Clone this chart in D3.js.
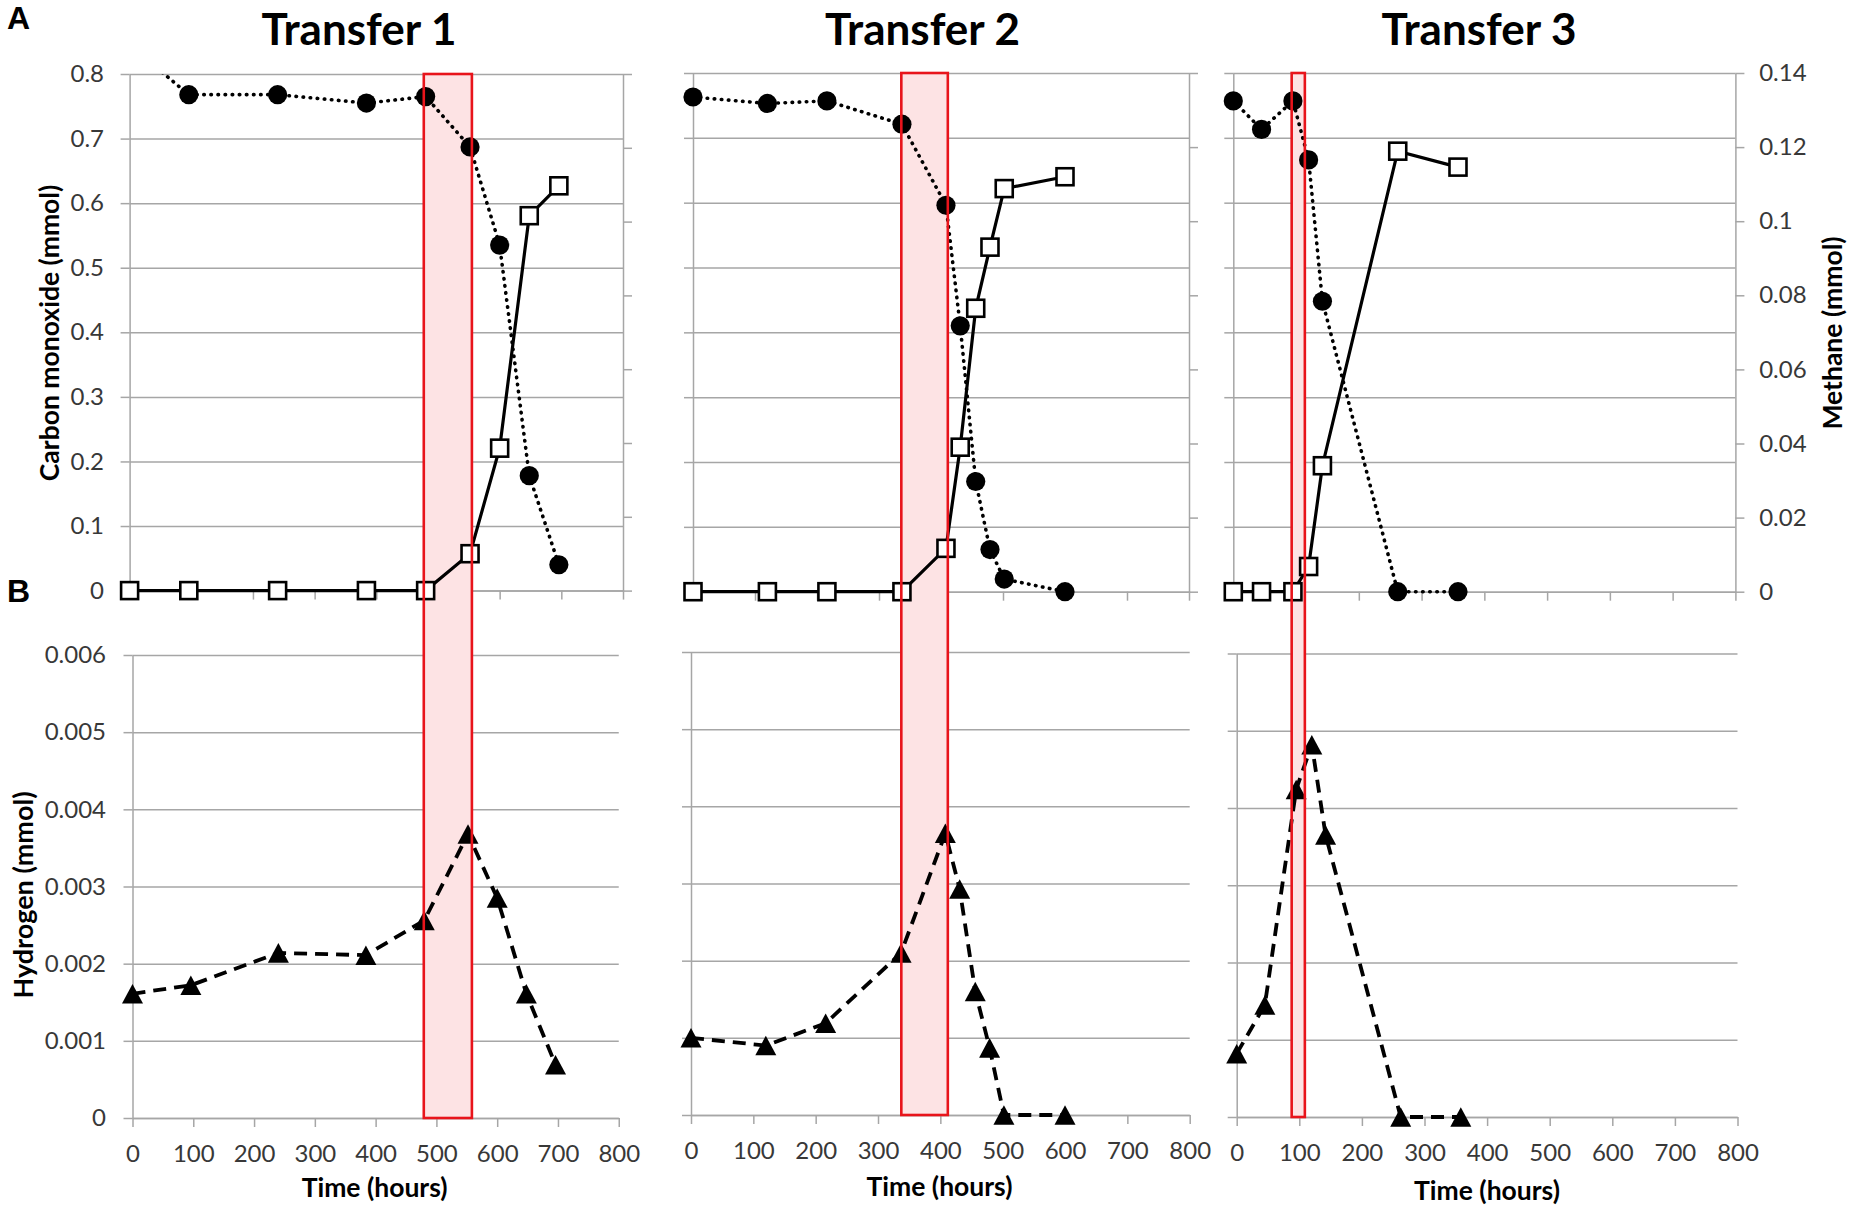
<!DOCTYPE html>
<html><head><meta charset="utf-8">
<script src="https://cdn.jsdelivr.net/npm/d3@7"></script>
<style>body{margin:0;background:#fff}svg{display:block}</style>
</head><body>
<svg id="c" width="1850" height="1210"></svg>
<script>
// ---------------- data ----------------
const transfers = ["Transfer 1", "Transfer 2", "Transfer 3"];
const xTicks   = [0, 100, 200, 300, 400, 500, 600, 700, 800];
const coTicks  = [0, 0.1, 0.2, 0.3, 0.4, 0.5, 0.6, 0.7, 0.8];
const ch4Ticks = [0, 0.02, 0.04, 0.06, 0.08, 0.1, 0.12, 0.14];
const h2Ticks  = [0, 0.001, 0.002, 0.003, 0.004, 0.005, 0.006];

const t1Time = [0, 96, 240, 384, 480, 552, 600, 648, 696];
const t1CO   = [0.845, 0.768, 0.768, 0.755, 0.765, 0.687, 0.535, 0.178, 0.040];
const t1CH4  = [0, 0, 0, 0, 0, 0.0100, 0.0386, 0.1016, 0.1097];
const t1H2   = [0.00161, 0.00172, 0.00214, 0.00211, 0.00256, 0.00368, 0.00285, 0.00161, 0.00069];

const t2Time = [0, 120, 216, 337, 408, 431, 456, 479, 502, 600];
const t2CO   = [0.763, 0.753, 0.757, 0.721, 0.596, 0.410, 0.170, 0.065, 0.0195, 0];
const t2CH4  = [0, 0, 0, 0, 0.0117, 0.0390, 0.0765, 0.0930, 0.1088, 0.112];
const t2H2   = [0.00100, 0.00090, 0.00119, 0.00210, 0.00365, 0.00293, 0.00160, 0.00087, 0, 0];

const t3Time = [0, 45, 95, 120, 142, 262, 358];
const t3CO   = [0.757, 0.713, 0.757, 0.666, 0.448, 0, 0];
const t3CH4  = [0, 0, 0, 0.0068, 0.034, 0.1189, 0.1146];
const t3H2   = [0.00082, 0.00145, 0.00424, 0.00482, 0.00365, 0, 0];

// highlighted time windows (hours)
const windowStart = [477, 336, 93];
const windowEnd   = [555, 411, 114];

// ---------------- layout ----------------
const topBox = [
  {x0: 129.6, x1: 623,    y0: 590.6, y1: 74},
  {x0: 693,   x1: 1189,   y0: 591.7, y1: 73},
  {x0: 1233.3,x1: 1735.4, y0: 591.7, y1: 73}
];
const botBox = [
  {x0: 132.5, x1: 618.75, y0: 1118, y1: 655},
  {x0: 691,   x1: 1189.7, y0: 1115, y1: 652},
  {x0: 1236.7,x1: 1737.5, y0: 1117, y1: 653.5}
];
const titleX = [359, 922.6, 1479];
const timeLabelX = [374.6, 939.5, 1487];
const timeLabelY = [1197, 1196, 1200];

const series = [
  {time: t1Time, co: t1CO, ch4: t1CH4, h2: t1H2},
  {time: t2Time, co: t2CO, ch4: t2CH4, h2: t2H2},
  {time: t3Time, co: t3CO, ch4: t3CH4, h2: t3H2}
];

const FONT = "Lato, 'Open Sans', sans-serif";
const GRID = "#a6a6a6";
const svg = d3.select("#c");
svg.append("rect").attr("width", 1850).attr("height", 1210).attr("fill", "#fff");

const fmt = d => String(+d.toFixed(4));
const none = () => "";

function styleAxis(g) {
  g.selectAll("line").attr("stroke", GRID).attr("stroke-width", 1.5);
  g.selectAll(".domain").attr("stroke", GRID).attr("stroke-width", 1.5);
  g.selectAll("text").attr("font-family", FONT).attr("font-size", 24).attr("fill", "#383838");
}

const triBox = {
  draw(ctx, size) {
    const w = Math.sqrt(size), h = w * 0.93;
    ctx.moveTo(0, -h / 2); ctx.lineTo(w / 2, h / 2); ctx.lineTo(-w / 2, h / 2); ctx.closePath();
  }
};

series.forEach((s, i) => {
  const T = topBox[i], B = botBox[i];
  const xT = d3.scaleLinear().domain([0, 800]).range([T.x0, T.x1]);
  const yCO = d3.scaleLinear().domain([0, 0.8]).range([T.y0, T.y1]);
  const yCH4 = d3.scaleLinear().domain([0, 0.14]).range([T.y0, T.y1]);
  const xB = d3.scaleLinear().domain([0, 800]).range([B.x0, B.x1]);
  const yH = d3.scaleLinear().domain([0, 0.006]).range([B.y0, B.y1]);
  const g = svg.append("g");

  // ---- top panel axes ----
  g.append("g").attr("transform", `translate(${T.x0},0)`)
    .call(d3.axisLeft(yCO).tickValues(coTicks).tickSize(-(T.x1 - T.x0)).tickFormat(none))
    .call(a => a.select(".domain").remove()).call(styleAxis);
  g.append("g").attr("transform", `translate(${T.x0},0)`)
    .call(d3.axisLeft(yCO).tickValues(coTicks).tickSize(9).tickSizeOuter(0).tickPadding(16.6)
      .tickFormat(i === 0 ? fmt : none)).call(styleAxis);
  g.append("g").attr("transform", `translate(${T.x1},0)`)
    .call(d3.axisRight(yCH4).tickValues(ch4Ticks).tickSize(9).tickSizeOuter(0).tickPadding(14.8)
      .tickFormat(i === 2 ? fmt : none)).call(styleAxis);
  g.append("g").attr("transform", `translate(0,${T.y0})`)
    .call(d3.axisBottom(xT).tickValues(xTicks).tickSize(9).tickSizeOuter(0).tickFormat(none))
    .call(styleAxis);

  // ---- bottom panel axes ----
  g.append("g").attr("transform", `translate(${B.x0},0)`)
    .call(d3.axisLeft(yH).tickValues(h2Ticks).tickSize(-(B.x1 - B.x0)).tickFormat(none))
    .call(a => a.select(".domain").remove()).call(styleAxis);
  g.append("g").attr("transform", `translate(${B.x0},0)`)
    .call(d3.axisLeft(yH).tickValues(h2Ticks).tickSize(9).tickSizeOuter(0).tickPadding(17.5)
      .tickFormat(i === 0 ? fmt : none)).call(styleAxis);
  g.append("g").attr("transform", `translate(0,${B.y0})`)
    .call(d3.axisBottom(xB).tickValues(xTicks).tickSize(9).tickSizeOuter(0).tickPadding(17.5)
      .tickFormat(d3.format("d"))).call(styleAxis);

  // ---- highlight fill ----
  const rx0 = xT(windowStart[i]), rx1 = xT(windowEnd[i]);
  g.append("rect").attr("x", rx0).attr("y", T.y1).attr("width", rx1 - rx0).attr("height", B.y0 - T.y1)
    .attr("fill", "#fde3e4");

  // ---- clip for top panel ----
  const cid = "clipTop" + i;
  svg.append("clipPath").attr("id", cid).append("rect")
    .attr("x", T.x0 - 40).attr("y", T.y1).attr("width", T.x1 - T.x0 + 80).attr("height", T.y0 - T.y1 + 40);

  const idx = d3.range(s.time.length);
  const top = g.append("g").attr("clip-path", `url(#${cid})`);

  // CO dotted line + circles
  top.append("path").datum(idx)
    .attr("d", d3.line().x(j => xT(s.time[j])).y(j => yCO(s.co[j])))
    .attr("fill", "none").attr("stroke", "#000").attr("stroke-width", 3.6)
    .attr("stroke-dasharray", "0.5 6.6").attr("stroke-linecap", "round");
  top.selectAll("circle.co").data(idx).join("circle").attr("class", "co")
    .attr("cx", j => xT(s.time[j])).attr("cy", j => yCO(s.co[j])).attr("r", 9.6).attr("fill", "#000");

  // CH4 solid line + squares
  top.append("path").datum(idx)
    .attr("d", d3.line().x(j => xT(s.time[j])).y(j => yCH4(s.ch4[j])))
    .attr("fill", "none").attr("stroke", "#000").attr("stroke-width", 3.2);
  top.selectAll("rect.ch4").data(idx).join("rect").attr("class", "ch4")
    .attr("x", j => xT(s.time[j]) - 8.5).attr("y", j => yCH4(s.ch4[j]) - 8.5)
    .attr("width", 17).attr("height", 17)
    .attr("fill", "#fff").attr("stroke", "#000").attr("stroke-width", 2.6);

  // H2 dashed line + triangles
  g.append("path").datum(idx)
    .attr("d", d3.line().x(j => xB(s.time[j])).y(j => yH(s.h2[j])))
    .attr("fill", "none").attr("stroke", "#000").attr("stroke-width", 3.8)
    .attr("stroke-dasharray", "13 8");
  g.selectAll("path.h2").data(idx).join("path").attr("class", "h2")
    .attr("transform", j => `translate(${xB(s.time[j])},${yH(s.h2[j])})`)
    .attr("d", d3.symbol().type(triBox).size(21 * 21)).attr("fill", "#000");

  // ---- highlight outline ----
  g.append("rect").attr("x", rx0).attr("y", T.y1).attr("width", rx1 - rx0).attr("height", B.y0 - T.y1)
    .attr("fill", "none").attr("stroke", "#e8141b").attr("stroke-width", 2.6);

  // ---- titles ----
  svg.append("text").attr("x", titleX[i]).attr("y", 45).attr("text-anchor", "middle")
    .attr("font-family", FONT).attr("font-weight", 700).attr("font-size", 44).text(transfers[i]);
  svg.append("text").attr("x", timeLabelX[i]).attr("y", timeLabelY[i]).attr("text-anchor", "middle")
    .attr("font-family", FONT).attr("font-weight", 700).attr("font-size", 26.5).text("Time (hours)");
});

// axis titles
function vlabel(x, y, txt, size) {
  svg.append("text").attr("transform", `translate(${x},${y}) rotate(-90)`).attr("text-anchor", "middle")
    .attr("font-family", FONT).attr("font-weight", 700).attr("font-size", size).text(txt);
}
vlabel(58.5, 333, "Carbon monoxide (mmol)", 26.5);
vlabel(33, 895, "Hydrogen (mmol)", 27);
vlabel(1842, 333, "Methane (mmol)", 26.5);

// panel letters
svg.append("text").attr("x", 7).attr("y", 29).attr("font-family", "'Liberation Sans', Arial, sans-serif")
  .attr("font-weight", 700).attr("font-size", 32).text("A");
svg.append("text").attr("x", 7).attr("y", 602).attr("font-family", "'Liberation Sans', Arial, sans-serif")
  .attr("font-weight", 700).attr("font-size", 32).text("B");
</script>
</body></html>
